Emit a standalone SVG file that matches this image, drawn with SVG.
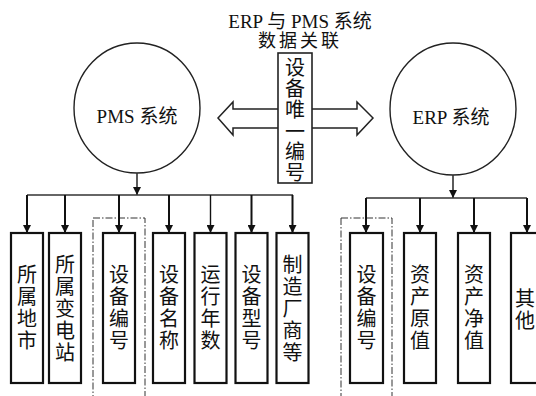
<svg xmlns="http://www.w3.org/2000/svg" width="536" height="396" viewBox="0 0 536 396">
<defs>
<style>
.t{font-family:"Liberation Serif","Noto Sans CJK SC",serif;fill:#111;}
.box{fill:#fff;stroke:#111;stroke-width:2.2;}
.circ{fill:#fff;stroke:#222;stroke-width:1.4;}
.bus{fill:none;stroke:#333;stroke-width:1.6;}
.dash{fill:none;stroke:#333;stroke-width:1;stroke-dasharray:7,2,1.5,2;}
.v{font-size:20px;text-anchor:middle;}
</style>
<marker id="ah" viewBox="0 0 10 10" refX="10" refY="5" markerWidth="8" markerHeight="8" markerUnits="userSpaceOnUse" orient="auto">
<path d="M0,0 L10,5 L0,10 z" fill="#111"/>
</marker>
</defs>
<rect width="536" height="396" fill="#fff"/>

<g id="title">
<text class="t" x="300" y="28" font-size="19" text-anchor="middle">ERP 与 PMS 系统</text>
<text class="t" x="300" y="47" font-size="18" text-anchor="middle" letter-spacing="3">数据关联</text>
</g>

<g id="link">
<polygon points="218,118 233,102 233,109 357,109 357,102 373,118 357,135 357,128 233,128 233,135" fill="#fff" stroke="#222" stroke-width="1.5"/>
<rect x="278" y="53" width="34" height="130" fill="#fff" stroke="#222" stroke-width="1.6"/>
<text class="t v" x="295" y="75">设</text>
<text class="t v" x="295" y="96">备</text>
<text class="t v" x="295" y="117">唯</text>
<text class="t v" x="295" y="139">一</text>
<text class="t v" x="295" y="159">编</text>
<text class="t v" x="295" y="180">号</text>
</g>

<g id="pms">
<ellipse class="circ" cx="137" cy="108" rx="63" ry="65"/>
<text class="t" x="137" y="123" font-size="19" text-anchor="middle">PMS 系统</text>
</g>
<g id="erp">
<ellipse class="circ" cx="453" cy="109" rx="63" ry="66"/>
<text class="t" x="451" y="124" font-size="19" text-anchor="middle">ERP 系统</text>
</g>

<g id="dashed">
<rect class="dash" x="93" y="218" width="52" height="190"/>
<rect class="dash" x="341" y="218" width="51" height="190"/>
</g>

<g id="connectors">
<line class="bus" x1="137" y1="173" x2="137" y2="195" marker-end="url(#ah)"/>
<line class="bus" x1="27" y1="195" x2="293" y2="195"/>
<g stroke="#111" stroke-width="2" marker-end="url(#ah)">
<line x1="27" y1="195" x2="27" y2="233"/>
<line x1="65" y1="195" x2="65" y2="233"/>
<line x1="119" y1="195" x2="119" y2="233"/>
<line x1="169" y1="195" x2="169" y2="233"/>
<line x1="210.5" y1="195" x2="210.5" y2="233" stroke-width="1.4"/>
<line x1="251.5" y1="195" x2="251.5" y2="233"/>
<line x1="292.5" y1="195" x2="292.5" y2="233"/>
</g>
<line class="bus" x1="453" y1="175" x2="453" y2="198" marker-end="url(#ah)"/>
<line class="bus" x1="366" y1="198" x2="527" y2="198"/>
<g stroke="#111" stroke-width="2" marker-end="url(#ah)">
<line x1="366" y1="198" x2="366" y2="233"/>
<line x1="420" y1="198" x2="420" y2="233"/>
<line x1="474" y1="198" x2="474" y2="233"/>
<line x1="527" y1="198" x2="527" y2="233"/>
</g>
</g>

<g id="n1"><rect class="box" x="11" y="233" width="32" height="150"/>
<text class="t v" x="27" y="282">所</text><text class="t v" x="27" y="304">属</text><text class="t v" x="27" y="326">地</text><text class="t v" x="27" y="348">市</text></g>
<g id="n2"><rect class="box" x="49" y="233" width="32" height="150"/>
<text class="t v" x="65" y="272">所</text><text class="t v" x="65" y="294">属</text><text class="t v" x="65" y="316">变</text><text class="t v" x="65" y="338">电</text><text class="t v" x="65" y="360">站</text></g>
<g id="n3"><rect class="box" x="103" y="233" width="32" height="150"/>
<text class="t v" x="119" y="282">设</text><text class="t v" x="119" y="304">备</text><text class="t v" x="119" y="326">编</text><text class="t v" x="119" y="348">号</text></g>
<g id="n4"><rect class="box" x="153" y="233" width="32" height="150"/>
<text class="t v" x="169" y="282">设</text><text class="t v" x="169" y="304">备</text><text class="t v" x="169" y="326">名</text><text class="t v" x="169" y="348">称</text></g>
<g id="n5"><rect class="box" x="194.5" y="233" width="32" height="150"/>
<text class="t v" x="210.5" y="282">运</text><text class="t v" x="210.5" y="304">行</text><text class="t v" x="210.5" y="326">年</text><text class="t v" x="210.5" y="348">数</text></g>
<g id="n6"><rect class="box" x="235.5" y="233" width="32" height="150"/>
<text class="t v" x="251.5" y="282">设</text><text class="t v" x="251.5" y="304">备</text><text class="t v" x="251.5" y="326">型</text><text class="t v" x="251.5" y="348">号</text></g>
<g id="n7"><rect class="box" x="276.5" y="233" width="32" height="150"/>
<text class="t v" x="292.5" y="272">制</text><text class="t v" x="292.5" y="294">造</text><text class="t v" x="292.5" y="316">厂</text><text class="t v" x="292.5" y="338">商</text><text class="t v" x="292.5" y="360">等</text></g>

<g id="e1"><rect class="box" x="350" y="233" width="33" height="150"/>
<text class="t v" x="366.5" y="282">设</text><text class="t v" x="366.5" y="304">备</text><text class="t v" x="366.5" y="326">编</text><text class="t v" x="366.5" y="348">号</text></g>
<g id="e2"><rect class="box" x="404" y="233" width="32" height="150"/>
<text class="t v" x="420" y="282">资</text><text class="t v" x="420" y="304">产</text><text class="t v" x="420" y="326">原</text><text class="t v" x="420" y="348">值</text></g>
<g id="e3"><rect class="box" x="458" y="233" width="32" height="150"/>
<text class="t v" x="474" y="282">资</text><text class="t v" x="474" y="304">产</text><text class="t v" x="474" y="326">净</text><text class="t v" x="474" y="348">值</text></g>
<g id="e4"><rect class="box" x="511" y="233" width="34" height="150"/>
<text class="t v" x="525" y="306">其</text><text class="t v" x="525" y="328">他</text></g>
</svg>
